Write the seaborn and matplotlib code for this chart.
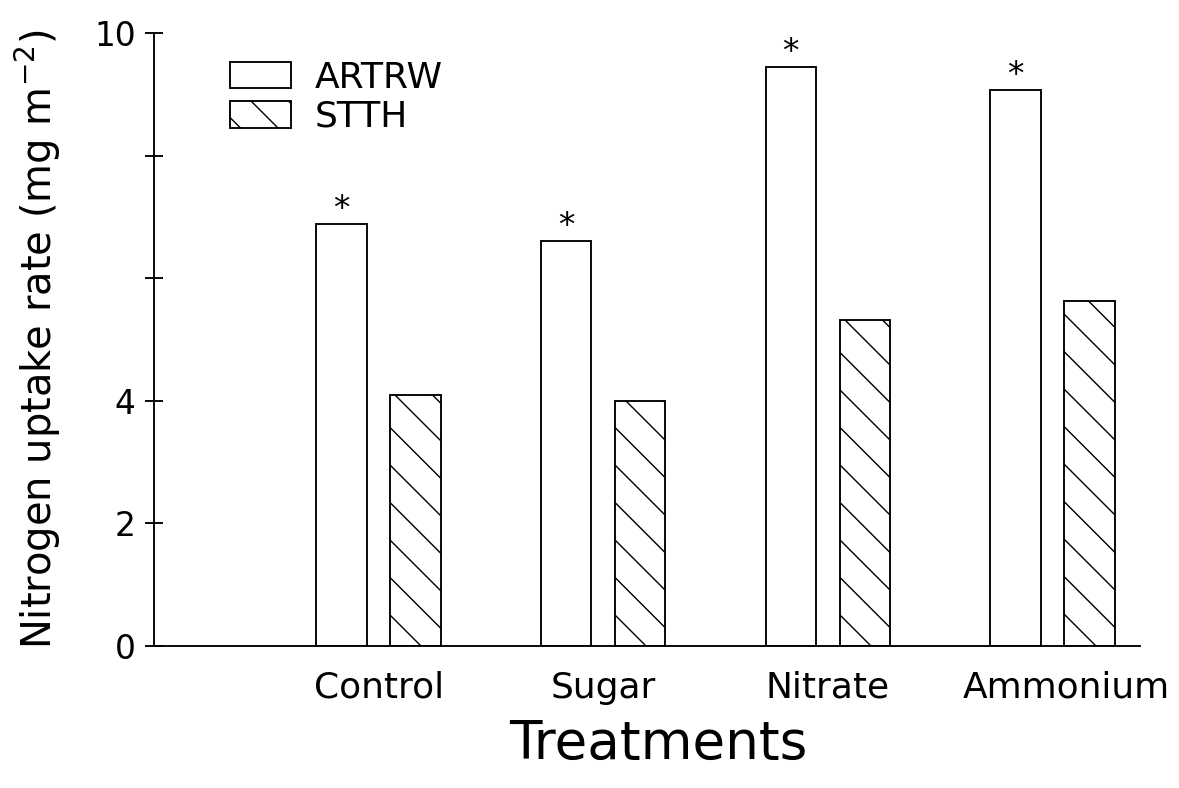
import matplotlib
matplotlib.use("Agg")
import matplotlib.pyplot as plt
import matplotlib.transforms as mtransforms
import seaborn as sns
import pandas as pd

treatments = ["Control", "Sugar", "Nitrate", "Ammonium"]
artrw = [6.88, 6.61, 9.45, 9.07]
stth = [4.09, 3.99, 5.32, 5.63]
species = ["ARTRW", "STTH"]
yticks = [0, 2, 4, 6, 8, 10]
ytick_labels = ["0", "2", "4", "", "", "10"]

df = pd.DataFrame({
    "Treatment": treatments * 2,
    "Species": [species[0]] * 4 + [species[1]] * 4,
    "Rate": artrw + stth,
})

sns.set_style("ticks")
plt.rcParams["font.family"] = ["DejaVu Sans"]
for k in ["text.color", "axes.labelcolor", "xtick.color", "ytick.color", "axes.edgecolor"]:
    plt.rcParams[k] = "black"
plt.rcParams["hatch.linewidth"] = 0.45
plt.rcParams["hatch.color"] = "black"

HATCH = "\\\\"

DPI = 225
fig = plt.figure(figsize=(1179 / DPI, 788 / DPI), dpi=DPI)
ax = fig.add_axes([154 / 1179, 1 - 646 / 788, (1140 - 154) / 1179, (646 - 33) / 788])

sns.barplot(data=df, x="Treatment", y="Rate", hue="Species", order=treatments,
            hue_order=species, palette=["white", "white"], width=0.66, gap=0.32,
            edgecolor="black", linewidth=0.6, ax=ax, legend=True)

for bar in ax.containers[1]:
    bar.set_hatch(HATCH)

# significance asterisks above ARTRW bars
for bar in ax.containers[0]:
    x = bar.get_x() + bar.get_width() / 2
    h = bar.get_height()
    ax.text(x, h - 0.03, "*", ha="center", va="bottom", fontsize=10.5, color="black")

ax.set_xlim(-1.0, 3.39)
ax.set_ylim(0, 10)
ax.set_yticks(yticks)
ax.set_yticklabels(ytick_labels)
ax.tick_params(axis="y", direction="inout", length=5.8, width=0.6, labelsize=10.5, pad=3)
ax.tick_params(axis="x", length=0, labelsize=11.5, pad=8)
for s in ["top", "right"]:
    ax.spines[s].set_visible(False)
for s in ["left", "bottom"]:
    ax.spines[s].set_linewidth(0.6)

# the last category label sits slightly right of its group in the original
lbl = ax.get_xticklabels()[-1]
lbl.set_transform(lbl.get_transform() + mtransforms.ScaledTranslation(14 / DPI, 0, fig.dpi_scale_trans))

ax.set_xlabel("Treatments", fontsize=17, labelpad=4, x=0.511)
ax.set_ylabel("Nitrogen uptake rate (mg m$^{-2}$)", fontsize=12.8, labelpad=10)

handles, labels = ax.get_legend_handles_labels()
for h in handles:
    h.set_edgecolor("black")
    h.set_linewidth(0.6)
handles[1].set_hatch(HATCH)
ax.legend(handles, labels, loc="upper left", bbox_to_anchor=(0.077, 0.955),
          frameon=False, fontsize=11.5, handlelength=1.7, handleheight=0.75,
          handletextpad=0.65, labelspacing=0.15, borderpad=0, borderaxespad=0)

fig.savefig("out.png", dpi=DPI)
